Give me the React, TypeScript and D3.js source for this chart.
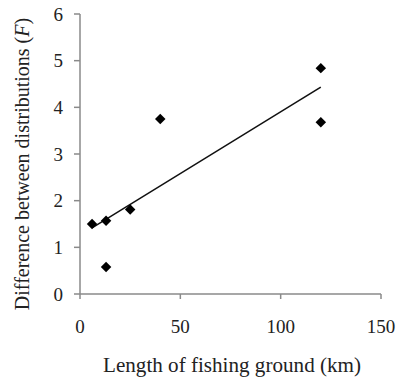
import { useEffect, useRef } from 'react'
import * as d3 from 'd3'

const lengthKm = [6, 13, 13, 25, 40, 120, 120]
const diffF = [1.5, 1.57, 0.58, 1.81, 3.75, 4.84, 3.68]
const xTicks = [0, 50, 100, 150]
const yTicks = [0, 1, 2, 3, 4, 5, 6]

export default function App() {
  const ref = useRef<SVGSVGElement>(null)

  useEffect(() => {
    if (!ref.current) return
    const svg = d3.select(ref.current)
    svg.selectAll('*').remove()

    const width = 398
    const height = 379
    const margin = { left: 80, right: 17, top: 14, bottom: 85 }

    const x = d3.scaleLinear().domain([0, 150]).range([margin.left, width - margin.right])
    const y = d3.scaleLinear().domain([0, 6]).range([height - margin.bottom, margin.top])

    const font = '"Liberation Serif", "Times New Roman", serif'
    const axisColor = '#8a8a8a'

    // axes
    svg.append('line')
      .attr('x1', x(0)).attr('x2', x(0))
      .attr('y1', y(0)).attr('y2', y(6))
      .attr('stroke', axisColor).attr('stroke-width', 1.5)
    svg.append('line')
      .attr('x1', x(0)).attr('x2', x(150))
      .attr('y1', y(0)).attr('y2', y(0))
      .attr('stroke', axisColor).attr('stroke-width', 1.5)

    svg.selectAll('line.yt').data(yTicks).enter().append('line')
      .attr('x1', x(0) - 6).attr('x2', x(0))
      .attr('y1', d => y(d)).attr('y2', d => y(d))
      .attr('stroke', axisColor).attr('stroke-width', 1.5)
    svg.selectAll('text.yl').data(yTicks).enter().append('text')
      .attr('x', x(0) - 17).attr('y', d => y(d) + 6.5)
      .attr('text-anchor', 'end')
      .style('font-family', font).style('font-size', '19px').style('fill', '#222')
      .text(d => d)

    svg.selectAll('line.xt').data(xTicks).enter().append('line')
      .attr('x1', d => x(d)).attr('x2', d => x(d))
      .attr('y1', y(0)).attr('y2', y(0) + 5)
      .attr('stroke', axisColor).attr('stroke-width', 1.5)
    svg.selectAll('text.xl').data(xTicks).enter().append('text')
      .attr('x', d => x(d)).attr('y', y(0) + 39)
      .attr('text-anchor', 'middle')
      .style('font-family', font).style('font-size', '19px').style('fill', '#222')
      .text(d => d)

    // trend line (least squares)
    const mx = d3.mean(lengthKm) as number
    const my = d3.mean(diffF) as number
    let sxy = 0
    let sxx = 0
    lengthKm.forEach((v, i) => {
      sxy += (v - mx) * (diffF[i] - my)
      sxx += (v - mx) * (v - mx)
    })
    const slope = sxy / sxx
    const icpt = my - slope * mx
    const x0 = d3.min(lengthKm) as number
    const x1 = d3.max(lengthKm) as number
    svg.append('path')
      .attr('d', d3.line<number>().x(d => x(d)).y(d => y(icpt + slope * d))([x0, x1]))
      .attr('stroke', '#111').attr('stroke-width', 1.5).attr('fill', 'none')

    // points
    const diamond = d3.symbol().type(d3.symbolDiamond2).size(70)
    svg.selectAll('path.pt').data(lengthKm).enter().append('path')
      .attr('d', diamond)
      .attr('transform', (d, i) => `translate(${x(d)},${y(diffF[i])})`)
      .attr('fill', '#000')

    // titles
    svg.append('text')
      .attr('x', 232).attr('y', 372)
      .attr('text-anchor', 'middle')
      .attr('textLength', 258).attr('lengthAdjust', 'spacingAndGlyphs')
      .style('font-family', font).style('font-size', '21px').style('fill', '#222')
      .text('Length of fishing ground (km)')

    const yt = svg.append('text')
      .attr('transform', `translate(29,164) rotate(-90)`)
      .attr('text-anchor', 'middle')
      .style('font-family', font).style('font-size', '20px').style('fill', '#222')
    yt.append('tspan').text('Difference between distributions (')
    yt.append('tspan').style('font-style', 'italic').text('F')
    yt.append('tspan').text(')')
  }, [])

  return (
    <svg ref={ref} width={398} height={379}
      style={{ position: 'absolute', left: 0, top: 0, background: '#fff' }} />
  )
}
